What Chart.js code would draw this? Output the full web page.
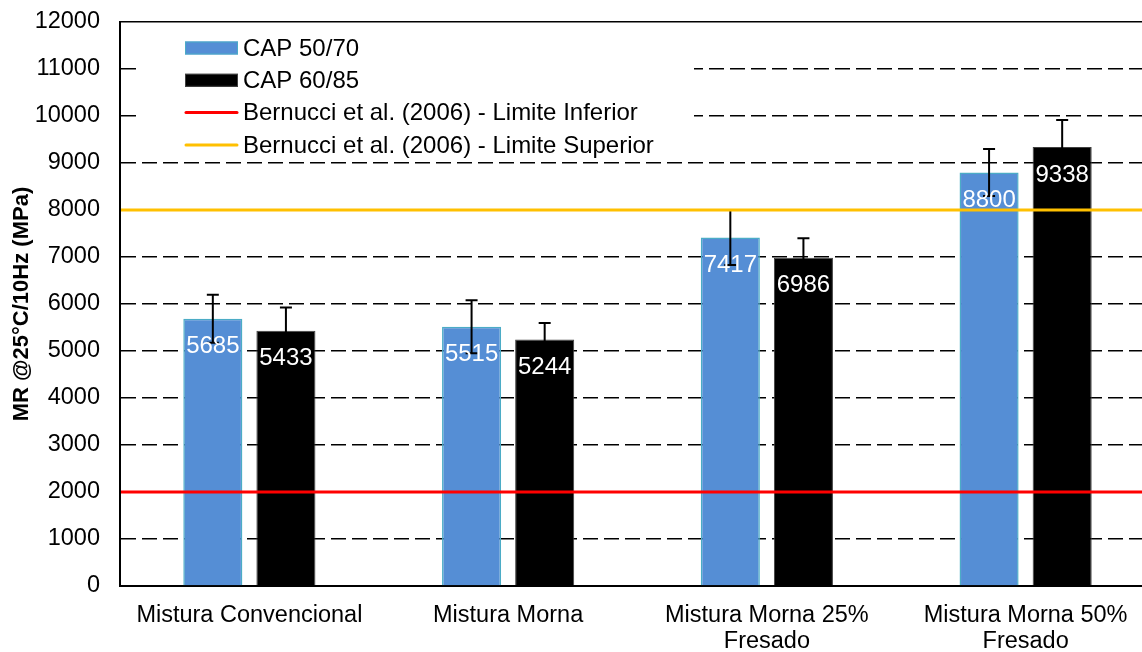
<!DOCTYPE html>
<html lang="pt">
<head>
<meta charset="UTF-8" />
<title>Módulo de Resiliência</title>
<script src="https://cdn.jsdelivr.net/npm/chart.js"></script>
<style>
  html, body { margin: 0; padding: 0; background: #fff; overflow: hidden; }
  #wrap { width: 1142px; height: 652px; overflow: hidden; }
  #box { width: 1156px; height: 652px; }
</style>
</head>
<body>
<div id="wrap"><div id="box"><canvas id="mrChart"></canvas></div></div>
<script>
// Dados do ensaio de módulo de resiliência
const categorias = [
  "Mistura Convencional",
  "Mistura Morna",
  ["Mistura Morna 25%", "Fresado"],
  ["Mistura Morna 50%", "Fresado"]
];
const cap5070 = [5685, 5515, 7417, 8800];
const cap6085 = [5433, 5244, 6986, 9338];
const desvio5070 = [510, 565, 585, 500];
const desvio6085 = [490, 350, 415, 577];
const limiteInferior = 2000;
const limiteSuperior = 8000;

const FONTE = "'Liberation Sans', Arial, sans-serif";

// Barras de erro (desvio padrão) desenhadas sobre as colunas
const barrasErro = {
  id: "barrasErro",
  afterDatasetsDraw(chart) {
    const c = chart.ctx;
    const y = chart.scales.y;
    c.save();
    c.strokeStyle = "#000";
    c.lineWidth = 2;
    chart.data.datasets.forEach((ds, i) => {
      chart.getDatasetMeta(i).data.forEach((bar, j) => {
        const v = ds.data[j], e = ds.desvio[j];
        const y1 = y.getPixelForValue(v + e);
        const y2 = y.getPixelForValue(v - e);
        c.beginPath();
        c.moveTo(bar.x, y1); c.lineTo(bar.x, y2);
        c.moveTo(bar.x - 6, y1); c.lineTo(bar.x + 6, y1);
        c.moveTo(bar.x - 6, y2); c.lineTo(bar.x + 6, y2);
        c.stroke();
      });
    });
    c.restore();
  }
};

// Limites de Bernucci et al. (2006)
const limites = [
  { label: "Bernucci et al. (2006) - Limite Inferior", valor: limiteInferior, cor: "#FF0000" },
  { label: "Bernucci et al. (2006) - Limite Superior", valor: limiteSuperior, cor: "#FFC000" }
];

const linhasLimite = {
  id: "linhasLimite",
  afterDatasetsDraw(chart) {
    const c = chart.ctx;
    const a = chart.chartArea;
    const y = chart.scales.y;
    c.save();
    c.lineWidth = 3;
    limites.forEach((l) => {
      const py = y.getPixelForValue(l.valor);
      c.strokeStyle = l.cor;
      c.beginPath();
      c.moveTo(a.left + 1, py);
      c.lineTo(a.right, py);
      c.stroke();
    });
    c.restore();
  }
};

// Valores escritos dentro das colunas
const rotulos = {
  id: "rotulos",
  afterDatasetsDraw(chart) {
    const c = chart.ctx;
    c.save();
    c.fillStyle = "#fff";
    c.font = "24px " + FONTE;
    c.textAlign = "center";
    c.textBaseline = "middle";
    chart.data.datasets.forEach((ds, i) => {
      chart.getDatasetMeta(i).data.forEach((bar, j) => {
        c.fillText(String(ds.data[j]), bar.x, bar.y + 28);
      });
    });
    c.restore();
  }
};

// Legenda dentro da área do gráfico, com fundo branco
const legenda = {
  id: "legenda",
  afterDraw(chart) {
    const c = chart.ctx;
    const top = chart.chartArea.top;
    c.save();
    c.fillStyle = "#fff";
    c.fillRect(137, top + 2, 557, 126);
    const itens = chart.data.datasets.map((ds) => ({
      label: ds.label, tipo: "barra", cor: ds.backgroundColor, borda: ds.borderColor
    })).concat(limites.map((l) => ({ label: l.label, tipo: "linha", cor: l.cor })));
    c.font = "24px " + FONTE;
    c.textBaseline = "middle";
    itens.forEach((it, k) => {
      const cy = top + 26 + k * 32.3;
      if (it.tipo === "barra") {
        c.fillStyle = it.cor;
        c.fillRect(185, cy - 6.5, 53, 13);
        c.strokeStyle = it.borda;
        c.lineWidth = 1;
        c.strokeRect(185.5, cy - 6, 52, 12);
      } else {
        c.strokeStyle = it.cor;
        c.lineWidth = 3;
        c.lineCap = "round";
        c.beginPath();
        c.moveTo(186, cy); c.lineTo(237, cy);
        c.stroke();
      }
      c.fillStyle = "#000";
      c.fillText(it.label, 243, cy + 1);
    });
    c.restore();
  }
};

const ctx = document.getElementById("mrChart").getContext("2d");
new Chart(ctx, {
  type: "bar",
  data: {
    labels: categorias,
    datasets: [
      {
        label: "CAP 50/70",
        data: cap5070,
        desvio: desvio5070,
        backgroundColor: "#558ED5",
        borderColor: "#4BACC6",
        borderWidth: 1.5
      },
      {
        label: "CAP 60/85",
        data: cap6085,
        desvio: desvio6085,
        backgroundColor: "#000000",
        borderColor: "#404040",
        borderWidth: 1
      }
    ]
  },
  options: {
    responsive: true,
    maintainAspectRatio: false,
    animation: false,
    layout: { padding: { top: 22, right: 1, left: 0, bottom: 0 } },
    datasets: { bar: { categoryPercentage: 0.565, barPercentage: 0.808 } },
    plugins: { legend: { display: false }, tooltip: { enabled: false } },
    scales: {
      x: {
        grid: { display: false, drawTicks: false },
        border: { color: "#000", width: 2 },
        ticks: {
          color: "#000",
          font: { family: FONTE, size: 23.5, lineHeight: 1.08 },
          padding: 17,
          maxRotation: 0,
          autoSkip: false
        },
        afterFit(s) { s.height = 66; }
      },
      y: {
        min: 0,
        max: 12000,
        ticks: {
          stepSize: 1000,
          color: "#000",
          font: { family: FONTE, size: 23.5 },
          padding: 20,
          callback: (v) => String(v)
        },
        grid: { color: "#000", lineWidth: 1.5, drawTicks: false },
        border: {
          color: "#000",
          width: 2,
          dash: (c) => (c.tick && c.tick.value === 12000 ? [] : [15, 6])
        },
        title: {
          display: true,
          text: "MR @25°C/10Hz (MPa)",
          color: "#000",
          font: { family: FONTE, size: 22, weight: "bold" },
          padding: { top: 9, bottom: 0 }
        },
        afterFit(s) {
          s.width = 120;
          s.paddingTop = 0;
          s.paddingBottom = 0;
        }
      }
    }
  },
  plugins: [barrasErro, linhasLimite, rotulos, legenda]
});
</script>
</body>
</html>
